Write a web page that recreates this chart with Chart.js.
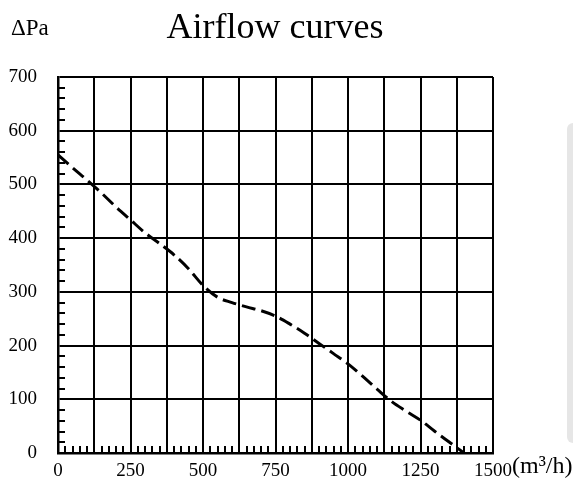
<!DOCTYPE html>
<html>
<head>
<meta charset="utf-8">
<script src="https://cdn.jsdelivr.net/npm/chart.js@4/dist/chart.umd.min.js"></script>
<style>
  body { margin: 0; background: #fff; }
  #wrap { width: 573px; height: 486px; }
</style>
</head>
<body>
<div id="wrap"><canvas id="airflow-graph" width="573" height="486"></canvas></div>
<script>
// airflow (m3/h) vs static pressure (Pa)
var flow = [0, 50, 100, 150, 200, 250, 300, 350, 400, 450, 500, 550, 600, 650, 700,
  750, 800, 850, 900, 950, 1000, 1050, 1100, 1150, 1200, 1250, 1300, 1350, 1400];
var pressure = [555, 531, 508, 484, 458, 434, 410, 390, 369, 343, 312, 290, 280, 272, 265,
  255, 240, 223, 204, 185, 166, 143, 119, 96, 78, 61, 40, 20, 0];

var xLabels = [0, 250, 500, 750, 1000, 1250, 1500];
var yLabels = [0, 100, 200, 300, 400, 500, 600, 700];

var points = [];
for (var i = 0; i < flow.length; i++) {
  points.push({ x: flow[i], y: pressure[i] });
}

var serif = "'Liberation Serif', 'DejaVu Serif', serif";

// short inner ticks, the grey strip on the right and the free texts
var decorPlugin = {
  id: "decor",
  beforeDraw: function (chart) {
    var ctx = chart.ctx;
    ctx.save();
    ctx.fillStyle = "#e6e6e6";
    ctx.beginPath();
    ctx.roundRect(567, 123, 12, 320, 6);
    ctx.fill();
    ctx.restore();
  },
  afterDraw: function (chart) {
    var ctx = chart.ctx;
    var xs = chart.scales.x;
    var ys = chart.scales.y;
    var area = chart.chartArea;
    ctx.save();
    ctx.strokeStyle = "#000";
    ctx.lineWidth = 2;
    ctx.beginPath();
    for (var v = 20; v < 700; v += 20) {
      if (v % 100 === 0) continue;
      var py = Math.round(ys.getPixelForValue(v));
      ctx.moveTo(area.left, py);
      ctx.lineTo(area.left + 7, py);
    }
    for (var u = 25; u < 1500; u += 25) {
      if (u % 125 === 0) continue;
      var px = Math.round(xs.getPixelForValue(u));
      ctx.moveTo(px, area.bottom);
      ctx.lineTo(px, area.bottom - 7);
    }
    ctx.stroke();

    ctx.fillStyle = "#000";
    ctx.textBaseline = "middle";
    ctx.textAlign = "center";
    ctx.font = "36px " + serif;
    ctx.fillText("Airflow curves", 275, 29);
    ctx.textAlign = "left";
    ctx.font = "23px " + serif;
    ctx.fillText("\u0394Pa", 11, 29);
    ctx.font = "24px " + serif;
    ctx.fillText("(m\u00b3/h)", 512, 467);
    ctx.restore();
  },
};

new Chart(document.getElementById("airflow-graph"), {
  type: "line",
  data: {
    datasets: [
      {
        label: "Airflow",
        data: points,
        borderColor: "#000",
        backgroundColor: "#000",
        borderWidth: 3,
        borderDash: [14, 6],
        pointRadius: 0,
        cubicInterpolationMode: "monotone",
        fill: false,
      },
    ],
  },
  options: {
    responsive: false,
    devicePixelRatio: 1,
    animation: false,
    layout: { padding: { top: 77, right: 80, bottom: 0, left: 0 } },
    plugins: {
      legend: { display: false },
      title: { display: false },
      tooltip: { enabled: false },
    },
    scales: {
      x: {
        type: "linear",
        min: 0,
        max: 1500,
        afterFit: function (s) { s.height = 33; },
        afterBuildTicks: function (s) {
          var t = [];
          for (var v = 0; v <= 1500; v += 125) t.push({ value: v });
          s.ticks = t;
        },
        ticks: {
          padding: 7,
          color: "#000",
          maxRotation: 0,
          autoSkip: false,
          font: { family: serif, size: 19 },
          callback: function (v) {
            return xLabels.indexOf(v) >= 0 ? String(v) : "";
          },
        },
        grid: { color: "#000", lineWidth: 2, drawTicks: false },
        border: { color: "#000", width: 2.5 },
      },
      y: {
        min: 0,
        max: 700,
        afterFit: function (s) { s.width = 58; },
        afterBuildTicks: function (s) {
          s.ticks = yLabels.map(function (v) { return { value: v }; });
        },
        ticks: {
          padding: 21,
          color: "#000",
          font: { family: serif, size: 19 },
        },
        grid: { color: "#000", lineWidth: 2, drawTicks: false },
        border: { color: "#000", width: 2.5 },
      },
    },
  },
  plugins: [decorPlugin],
});
</script>
</body>
</html>
